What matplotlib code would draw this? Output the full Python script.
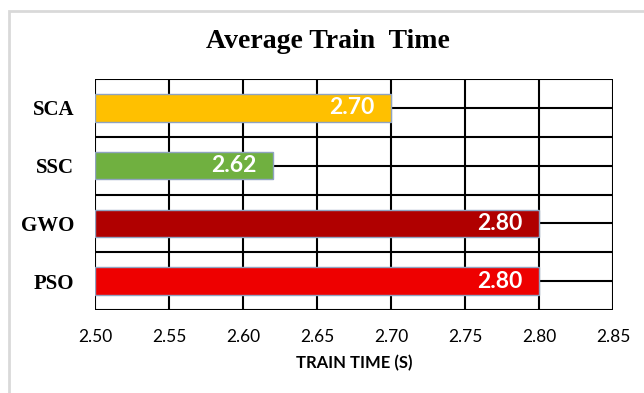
import numpy as np
import matplotlib
matplotlib.use("Agg")
import matplotlib.pyplot as plt
from matplotlib.patches import Rectangle

# Data (top to bottom as drawn)
methods = ["SCA", "SSC", "GWO", "PSO"]
train_time = [2.70, 2.62, 2.80, 2.80]
bar_colors = ["#FFC000", "#70B040", "#B00000", "#EE0000"]
xticks = [2.50, 2.55, 2.60, 2.65, 2.70, 2.75, 2.80, 2.85]

fig = plt.figure(figsize=(6.44, 3.93), dpi=100)
ax = fig.add_axes([95 / 644, 1 - 310 / 393, (613 - 95) / 644, (310 - 79) / 393])

# light outer frame
fig.patches.append(Rectangle((8.5 / 644, -0.05), 1.2, 1 - 11 / 393 + 0.05,
                             transform=fig.transFigure, fill=False,
                             edgecolor="#d9d9d9", linewidth=2))

pos = np.arange(len(methods))[::-1]
ax.set_xlim(2.50, 2.85)
ax.set_ylim(-0.5, len(methods) - 0.5)

# grid: vertical at each tick, horizontal at every half category
for x in xticks:
    ax.axvline(x, color="black", lw=1.5, zorder=1)
for y in np.arange(-0.5, len(methods), 0.5):
    ax.axhline(y, color="black", lw=1.5, zorder=1)

left = xticks[0]
bars = ax.barh(pos, np.array(train_time) - left, left=left, height=0.48,
               color=bar_colors, edgecolor="#8FA3C0", linewidth=1, zorder=3)

for p, v in zip(pos, train_time):
    ax.text(v - 0.011, p, f"{v:.2f}", ha="right", va="center",
            color="white", fontsize=16.5, fontweight="bold",
            family="Lato", zorder=4)

for s in ax.spines.values():
    s.set_visible(False)

ax.set_xticks(xticks)
ax.set_xticklabels([f"{x:.2f}" for x in xticks], family="Lato", fontsize=12.5)
ax.set_yticks(pos)
ax.set_yticklabels(methods, family="Liberation Serif", fontweight="bold",
                   fontsize=15)
ax.tick_params(axis="x", length=0, pad=14)
ax.tick_params(axis="y", length=0, pad=15)

ax.set_xlabel("TRAIN TIME (S)", family="Lato", fontweight="bold",
              fontsize=12, labelpad=7)

fig.text(328 / 644, 1 - 42 / 393, "Average Train  Time", ha="center",
         va="center", family="Liberation Serif", fontweight="bold",
         fontsize=20)

fig.savefig("out.png", dpi=100)
